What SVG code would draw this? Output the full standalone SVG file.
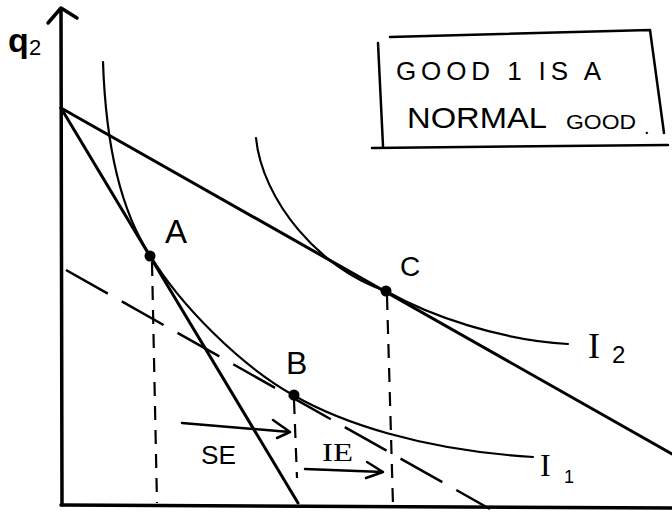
<svg xmlns="http://www.w3.org/2000/svg" width="672" height="522" viewBox="0 0 672 522">
<style>
.ax{stroke:#000;stroke-width:3.5;fill:none;stroke-linecap:round;stroke-linejoin:round}
.bl{stroke:#000;stroke-width:3;fill:none;stroke-linecap:round}
.ic{stroke:#000;stroke-width:2.2;fill:none;stroke-linecap:round}
.dl{stroke:#000;stroke-width:2.5;fill:none;stroke-dasharray:48,16}
.vd{stroke:#000;stroke-width:2.2;fill:none;stroke-dasharray:14,10}
.ar{stroke:#000;stroke-width:2.5;fill:none;stroke-linecap:round;stroke-linejoin:round}
.t{font-family:"Liberation Sans",Arial,sans-serif;fill:#000}
.s{font-family:"Liberation Serif","Times New Roman",serif;fill:#000}
.dot{fill:#000}
</style>
<rect width="672" height="522" fill="#fff"/>
<g id="axes">
  <path class="ax" d="M61,10 L62,505"/>
  <path class="ax" d="M48,23 L61,8 L77,18"/>
  <path class="ax" d="M61,505 L672,508"/>
  <text class="t" x="8" y="52" font-size="34" font-weight="bold">q</text>
  <text class="t" x="29" y="55" font-size="22">2</text>
</g>
<g id="connectors">
  <path class="bl" d="M61,108 L298,503"/>
  <path class="bl" d="M61,108 L672,454"/>
  <path class="dl" d="M66,270 L490,509"/>
  <path class="vd" d="M152,262 L157,503"/>
  <path class="vd" d="M294,400 L297,478"/>
  <path class="vd" d="M387,296 L393,505"/>
  <path class="ar" d="M182,423 L290,432 M273,420 L290,432 L277,438"/>
  <path class="ar" d="M305,469 L383,472 M367,462 L383,472 L366,478"/>
</g>
<g id="I1">
  <path class="ic" d="M103,62 C106,150 122,213 150,255 C180,305 240,365 293,395 C340,422 420,450 533,457"/>
  <text class="s" x="540" y="476" font-size="32">I</text>
  <text class="t" x="564" y="483" font-size="18">1</text>
</g>
<g id="I2">
  <path class="ic" d="M256,138 C262,200 320,270 386,291 C430,316 500,340 568,344"/>
  <text class="s" x="588" y="358" font-size="36">I</text>
  <text class="t" x="612" y="363" font-size="24">2</text>
</g>
<g id="A">
  <circle class="dot" cx="150" cy="256" r="5.5"/>
  <text class="t" x="165" y="243" font-size="33">A</text>
</g>
<g id="B">
  <circle class="dot" cx="294" cy="395" r="5.5"/>
  <text class="t" x="286" y="374" font-size="32">B</text>
</g>
<g id="C">
  <circle class="dot" cx="386" cy="291" r="5.5"/>
  <text class="t" x="400" y="276" font-size="28">C</text>
</g>
<g id="SE">
  <text class="t" x="201" y="464" font-size="25" textLength="35" lengthAdjust="spacingAndGlyphs">SE</text>
</g>
<g id="IE">
  <text class="s" x="322" y="461" font-size="26" textLength="31" lengthAdjust="spacingAndGlyphs">IE</text>
</g>
<g id="note">
  <path class="ax" style="stroke-width:2.5" d="M378,43 L383,146 M390,37 L650,30 L664,133 M372,148 L668,145"/>
  <text class="t" x="396" y="80" font-size="26" textLength="205" lengthAdjust="spacing">GOOD 1 IS A</text>
  <text class="t" x="407" y="128" font-size="29" textLength="140" lengthAdjust="spacingAndGlyphs">NORMAL</text>
  <text class="t" x="566" y="129" font-size="20" textLength="70" lengthAdjust="spacingAndGlyphs">GOOD</text>
  <text class="t" x="644" y="134" font-size="20">.</text>
</g>
</svg>
